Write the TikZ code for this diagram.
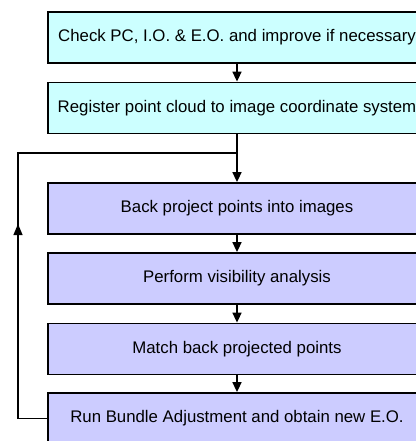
\documentclass[tikz,border=0pt]{standalone}
\usepackage{fontspec}
\setmainfont{Liberation Sans}
\usetikzlibrary{arrows.meta}
\definecolor{boxcyan}{HTML}{CCFFFF}
\definecolor{boxlav}{HTML}{CCCCFF}
\begin{document}
\begin{tikzpicture}[x=1pt,y=-1pt,
  stepbox/.style={draw=black, line width=1.8pt, minimum width=378pt, minimum height=51pt, inner sep=0pt, font=\fontsize{16.8}{20}\selectfont, anchor=center},
  cyanbox/.style={stepbox, fill=boxcyan},
  lavbox/.style={stepbox, fill=boxlav},
  flow/.style={line width=1.6pt, -{Triangle[length=10pt,width=9pt]}},
  loopline/.style={line width=1.2pt}
]
\useasboundingbox (0,0) rectangle (415,441);
\node[cyanbox] (b1) at (237,37.5) {Check PC, I.O. \& E.O. and improve if necessary};
\node[cyanbox] (b2) at (237,108) {Register point cloud to image coordinate system};
\node[lavbox] (b3) at (237,208.5) {Back project points into images};
\node[lavbox] (b4) at (237,278.5) {Perform visibility analysis};
\node[lavbox] (b5) at (237,349) {Match back projected points};
\node[lavbox] (b6) at (237,418.5) {Run Bundle Adjustment and obtain new E.O.};
\coordinate (jn) at (237,153);
\coordinate (lt) at (18,153);
\coordinate (lb) at (18,418.5);
\draw[flow] (b1.south) -- (b2.north);
\draw[flow] (b2.south) -- (b3.north);
\draw[flow] (b3.south) -- (b4.north);
\draw[flow] (b4.south) -- (b5.north);
\draw[flow] (b5.south) -- (b6.north);
\draw[loopline] (b6.west) -- (lb) -- (lt) -- (jn);
\draw[loopline, -{Triangle[length=11pt,width=9pt]}] (lb) -- (18,224);
\end{tikzpicture}
\end{document}
